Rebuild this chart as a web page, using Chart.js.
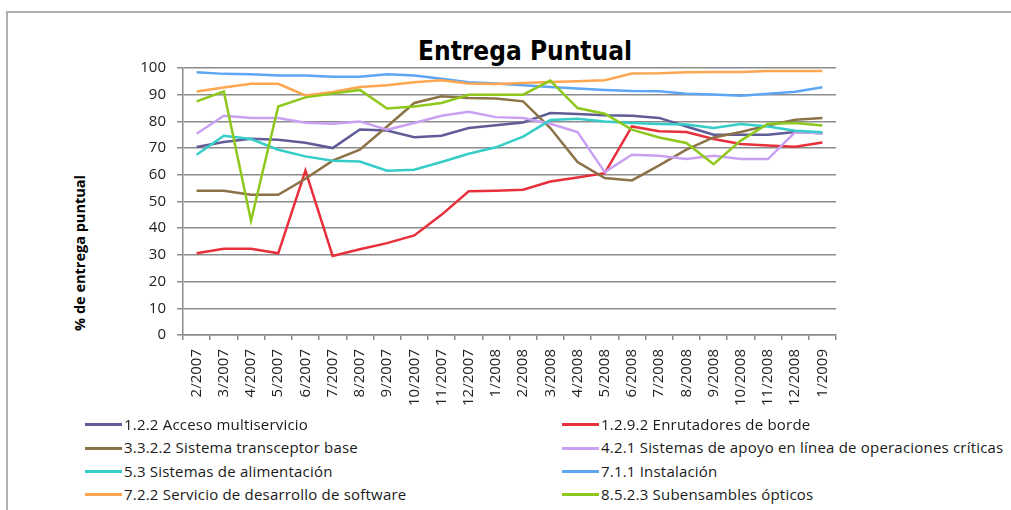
<!DOCTYPE html>
<html>
<head>
<meta charset="utf-8">
<script src="https://cdn.jsdelivr.net/npm/chart.js@4.4.0/dist/chart.umd.min.js"></script>
<style>
  body { margin: 0; background: #fff; width: 1011px; height: 510px; overflow: hidden; position: relative; font-family: "Open Sans", sans-serif; }
  #frame { position: absolute; left: 6px; top: 11px; width: 1020px; height: 520px; border: 2px solid #b0b0b0; }
  #title { position: absolute; left: 375px; top: 36px; width: 300px; text-align: center; font: bold 26px "Liberation Sans Narrow", "DejaVu Sans Condensed", sans-serif; color: #000; }
  #ytitle { position: absolute; left: 79px; top: 253px; transform: translate(-50%, -50%) rotate(-90deg); white-space: nowrap; font: bold 14.5px "Open Sans", sans-serif; color: #000; }
  #chart { position: absolute; left: 0; top: 0; }
  #legend { position: absolute; left: 0; top: 0; }
  .item { position: absolute; white-space: nowrap; font-size: 15px; letter-spacing: 0.2px; color: #1a1a1a; line-height: 18px; }
  .item span.mk { display: inline-block; width: 37px; height: 3px; vertical-align: middle; margin-right: 2px; margin-top: -2px; }
</style>
</head>
<body>
<div id="frame"></div>
<div id="title">Entrega Puntual</div>
<div id="ytitle">% de entrega puntual</div>
<canvas id="chart" width="1011" height="425"></canvas>
<div id="legend"></div>
<script>
// Categories (months)
const months = [
  "2/2007", "3/2007", "4/2007", "5/2007", "6/2007", "7/2007", "8/2007", "9/2007",
  "10/2007", "11/2007", "12/2007", "1/2008", "2/2008", "3/2008", "4/2008", "5/2008",
  "6/2008", "7/2008", "8/2008", "9/2008", "10/2008", "11/2008", "12/2008", "1/2009",
];

// Series values (% de entrega puntual)
const accesoMultiservicio = [70.4, 72.3, 73.5, 73.1, 72, 70, 77, 76.6, 74.1, 74.6, 77.5, 78.6, 79.6, 83.1, 82.8, 82.3, 82.1, 81.3, 78.1, 75, 75, 75, 76, 75.6];
const enrutadoresBorde = [30.6, 32.3, 32.3, 30.6, 61.6, 29.6, 32.1, 34.4, 37.3, 45, 53.8, 54, 54.4, 57.5, 59, 60.6, 78.1, 76.3, 76, 73.4, 71.5, 71, 70.5, 72.1];
const transceptorBase = [54, 54, 52.5, 52.5, 58.5, 65.3, 69.4, 78.1, 86.9, 89.4, 88.8, 88.6, 87.5, 77.5, 64.8, 58.8, 57.9, 63.5, 69.4, 74, 76, 78.5, 80.6, 81.3];
const apoyoEnLinea = [75.4, 82.1, 81.3, 81.3, 79.5, 79.1, 80, 76.9, 79.4, 82.1, 83.6, 81.6, 81.3, 79.1, 76, 61, 67.5, 67.1, 65.9, 67.1, 65.9, 65.9, 76, 75.6];
const alimentacion = [67.5, 74.6, 73.4, 69.4, 66.9, 65.3, 65, 61.5, 61.9, 64.8, 67.9, 70.3, 74.3, 80.5, 81, 80, 79.4, 79, 78.8, 77.5, 79, 78.1, 76.5, 75.9];
const instalacion = [98.4, 97.8, 97.7, 97.2, 97.2, 96.7, 96.7, 97.7, 97.2, 96, 94.7, 94.2, 93.5, 92.9, 92.3, 91.8, 91.4, 91.3, 90.4, 90.1, 89.6, 90.4, 91.1, 92.8];
const desarrolloSoftware = [91.2, 92.7, 94.1, 94.1, 89.7, 91, 92.9, 93.5, 94.7, 95.4, 94.2, 94, 94.4, 94.8, 95, 95.4, 97.9, 98, 98.4, 98.5, 98.5, 98.9, 98.9, 98.9];
const subensamblesOpticos = [87.5, 91.2, 42.8, 85.6, 89, 90.4, 91.8, 84.8, 85.6, 86.9, 90, 90, 90, 95.3, 85, 82.9, 76.9, 74, 71.9, 64, 72.8, 79.1, 79.4, 78.5];

// Series names and colours
const seriesNames = [
  "1.2.2 Acceso multiservicio",
  "1.2.9.2 Enrutadores de borde",
  "3.3.2.2 Sistema  transceptor base",
  "4.2.1 Sistemas  de apoyo en línea de operaciones críticas",
  "5.3 Sistemas  de alimentación",
  "7.1.1 Instalación",
  "7.2.2 Servicio de desarrollo de software",
  "8.5.2.3 Subensambles ópticos",
];
const seriesValues = [accesoMultiservicio, enrutadoresBorde, transceptorBase, apoyoEnLinea, alimentacion, instalacion, desarrolloSoftware, subensamblesOpticos];
const seriesColors = ["#605c98", "#e8303c", "#8c7247", "#c9a0f2", "#35cdc8", "#5da6f4", "#ffa650", "#8ec81c"];

// Y axis ticks
const yTicks = [0, 10, 20, 30, 40, 50, 60, 70, 80, 90, 100];

const datasets = seriesValues.map((vals, i) => ({
  label: seriesNames[i],
  data: vals,
  borderColor: seriesColors[i],
  backgroundColor: seriesColors[i],
  borderWidth: 2.5,
  pointRadius: 0,
  tension: 0,
  fill: false,
}));

const tickFont = { family: "'Open Sans', sans-serif", size: 15 };

new Chart(document.getElementById("chart").getContext("2d"), {
  type: "line",
  data: { labels: months, datasets: datasets.slice().reverse() },
  options: {
    responsive: false,
    animation: false,
    layout: { padding: { left: 100, right: 175, top: 68, bottom: 0 } },
    plugins: { legend: { display: false }, tooltip: { enabled: false } },
    scales: {
      x: {
        offset: true,
        grid: { display: true, drawOnChartArea: false, offset: true, tickLength: 5, color: "#8c8c8c", lineWidth: 1.5 },
        border: { color: "#8c8c8c", width: 1.5 },
        ticks: { autoSkip: false, maxRotation: 90, minRotation: 90, padding: 9, color: "#222", font: tickFont },
        afterFit: (scale) => { scale.height = 90; },
      },
      y: {
        min: 0,
        max: 100,
        afterBuildTicks: (scale) => { scale.ticks = yTicks.map((v) => ({ value: v })); },
        grid: { color: "#8c8c8c", lineWidth: 1.5, tickLength: 6 },
        border: { color: "#8c8c8c", width: 1.5 },
        ticks: { padding: 11, color: "#222", font: tickFont },
        afterFit: (scale) => { scale.width = 83; },
      },
    },
  },
});

// Legend in two columns
const legend = document.getElementById("legend");
seriesNames.forEach((name, i) => {
  const item = document.createElement("div");
  item.className = "item";
  item.style.left = (i % 2 === 0 ? 85 : 562) + "px";
  item.style.top = (415 + Math.floor(i / 2) * 23.3) + "px";
  item.innerHTML = `<span class="mk" style="background:${seriesColors[i]}"></span>${name}`;
  legend.appendChild(item);
});
</script>
</body>
</html>
